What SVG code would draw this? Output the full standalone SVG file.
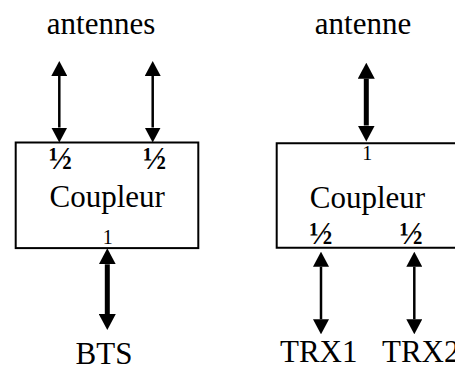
<svg xmlns="http://www.w3.org/2000/svg" width="455" height="370" viewBox="0 0 455 370">
  <style>
    .big { font-family: "Liberation Serif", "Times New Roman", serif; font-size: 31px; fill: #000; }
    .frac { font-family: "Liberation Serif", "Times New Roman", serif; font-size: 31px; font-weight: bold; fill: #000; text-anchor: middle; }
    .port { font-family: "Liberation Serif", "Times New Roman", serif; font-size: 20px; fill: #000; text-anchor: middle; }
    .box { fill: #fff; stroke: #000; stroke-width: 2; }
    .thin { stroke: #000; stroke-width: 2.5; fill: none; marker-start: url(#headThin); marker-end: url(#headThin); }
    .thick { stroke: #000; stroke-width: 5; fill: none; marker-start: url(#headThick); marker-end: url(#headThick); }
  </style>
  <defs>
    <marker id="headThin" viewBox="0 0 15 16" refX="0" refY="8" markerWidth="15" markerHeight="16" markerUnits="userSpaceOnUse" orient="auto-start-reverse">
      <path d="M0,0 L15,8 L0,16 Z" fill="#000"/>
    </marker>
    <marker id="headThick" viewBox="0 0 16 17" refX="0" refY="8.5" markerWidth="16" markerHeight="17" markerUnits="userSpaceOnUse" orient="auto-start-reverse">
      <path d="M0,0 L16,8.5 L0,17 Z" fill="#000"/>
    </marker>
  </defs>

  <!-- two-antenna coupler feeding the BTS -->
  <g id="coupleur-bts">
    <rect class="box" x="15.7" y="142.5" width="182.6" height="105.6"/>
    <text class="frac" x="60.3" y="168.5">½</text>
    <text class="frac" x="154.7" y="168.5">½</text>
    <text class="big" x="107.2" y="207.3" text-anchor="middle">Coupleur</text>
    <text class="port" x="107.7" y="244.3">1</text>
  </g>

  <!-- coupler splitting one antenna towards two transceivers -->
  <g id="coupleur-trx">
    <path class="box" d="M460,143.3 L276.7,143.3 L276.7,247.8 L460,247.8"/>
    <text class="port" x="367.3" y="160">1</text>
    <text class="big" x="367.5" y="208" text-anchor="middle">Coupleur</text>
    <text class="frac" x="320.8" y="244">½</text>
    <text class="frac" x="411.2" y="244">½</text>
  </g>

  <g id="antennes"><text class="big" x="101" y="34" text-anchor="middle">antennes</text></g>
  <g id="antenne"><text class="big" x="363" y="33.5" text-anchor="middle">antenne</text></g>
  <g id="bts"><text class="big" x="104" y="363.5" text-anchor="middle">BTS</text></g>
  <g id="trx1"><text class="big" x="280" y="362">TRX1</text></g>
  <g id="trx2"><text class="big" x="382" y="362">TRX2</text></g>

  <!-- bidirectional links -->
  <g id="connectors">
    <line class="thin" x1="59.3" y1="76" x2="59.3" y2="127.5"/>
    <line class="thin" x1="152.7" y1="76" x2="152.7" y2="127.5"/>
    <line class="thick" x1="107.3" y1="264.3" x2="107.3" y2="314"/>
    <line class="thick" x1="366.3" y1="78.7" x2="366.3" y2="125.5"/>
    <line class="thin" x1="321" y1="266.7" x2="321" y2="319.3"/>
    <line class="thin" x1="414.3" y1="266.7" x2="414.3" y2="319.3"/>
  </g>
</svg>
